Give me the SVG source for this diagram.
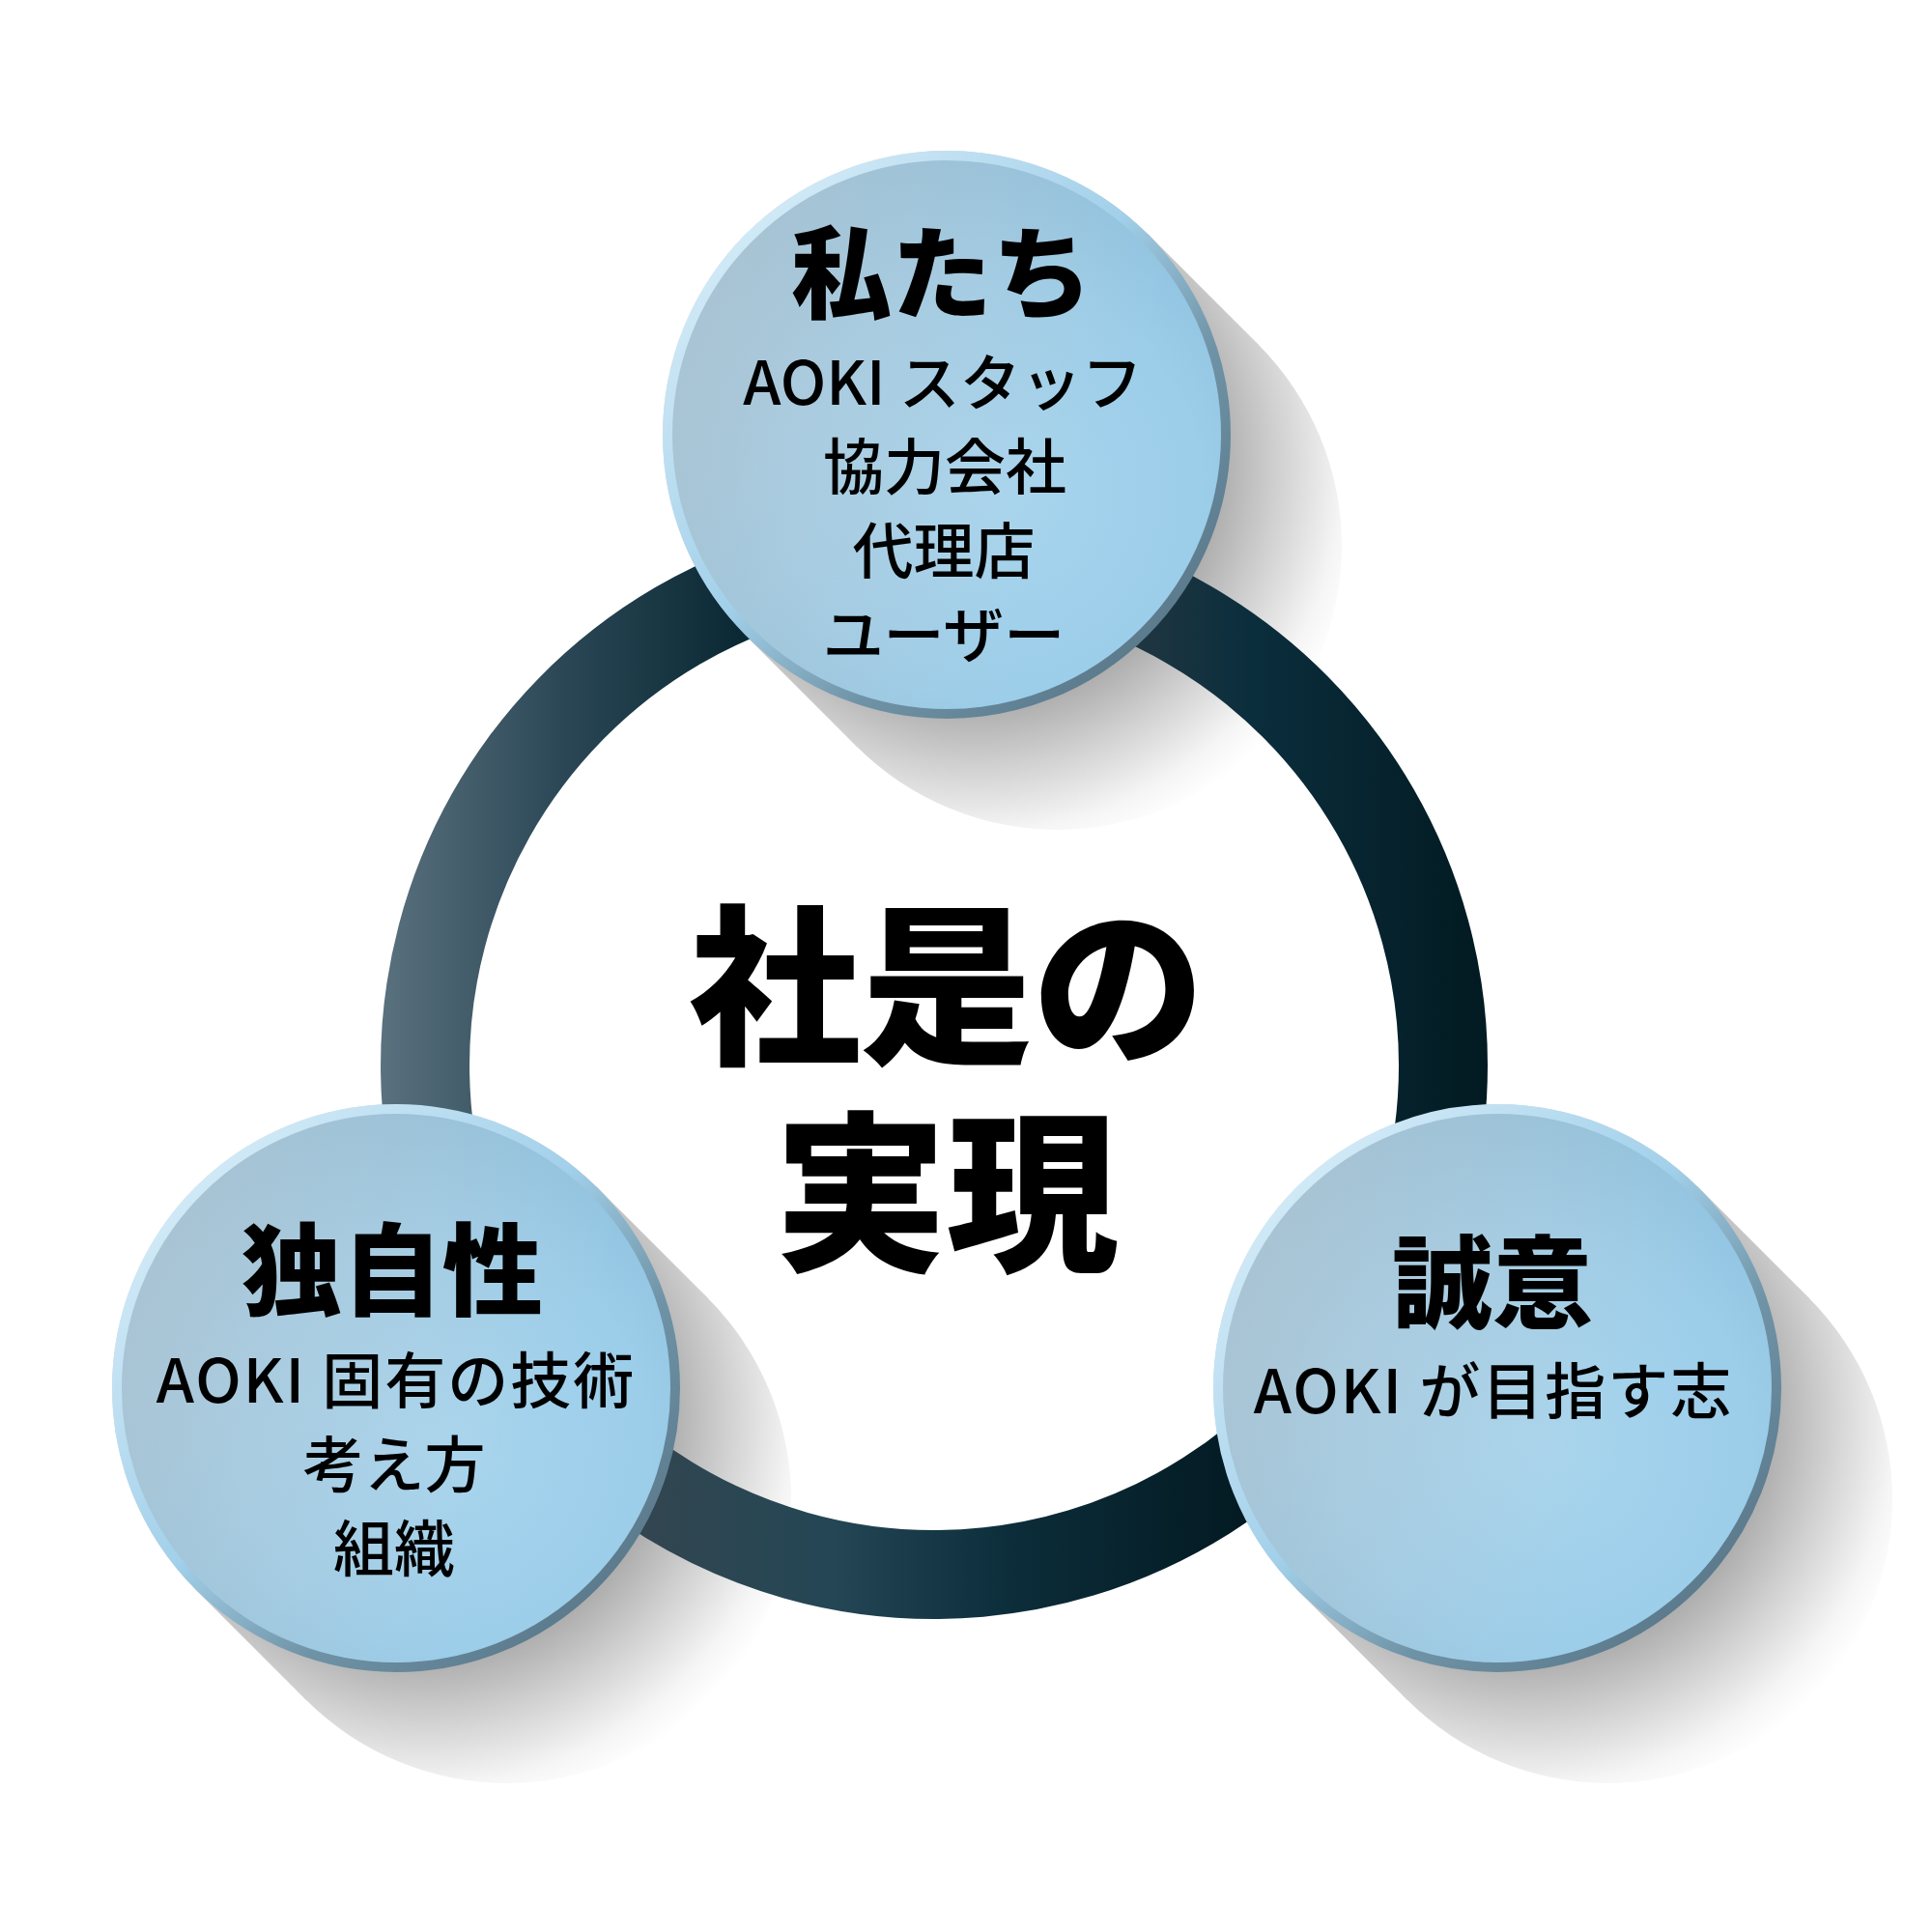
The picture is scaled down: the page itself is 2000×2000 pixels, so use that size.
<svg xmlns="http://www.w3.org/2000/svg" width="2000" height="2000" viewBox="0 0 2000 2000">
<style>
.node-fill{fill:url(#circleFill)}
.node-gloss{fill:url(#circleTint)}
.node-rim{fill:none;stroke:url(#rimGrad);stroke-width:10}
.ring{fill:none;stroke-width:92}
.head{font-family:"Noto Sans CJK JP","Noto Sans",sans-serif;font-weight:900;font-size:104px;fill:#000;text-anchor:middle}
.sub{font-family:"Noto Sans CJK JP","Noto Sans",sans-serif;font-weight:500;font-size:63px;fill:#000;text-anchor:middle}
.wide{letter-spacing:2px}
.center{font-family:"Noto Sans CJK JP","Noto Sans",sans-serif;font-weight:900;font-size:178px;fill:#000;text-anchor:middle}
</style>
<defs>
<radialGradient id="circleFill" cx="0.58" cy="0.6" r="0.62">
<stop offset="0" stop-color="#a8d6ef"/>
<stop offset="0.6" stop-color="#9ccde9"/>
<stop offset="1" stop-color="#8bbfdc"/>
</radialGradient>
<linearGradient id="circleTint" x1="0" y1="0.3" x2="0.75" y2="0.6">
<stop offset="0" stop-color="#c4c8cc" stop-opacity="0.55"/>
<stop offset="1" stop-color="#c4c8cc" stop-opacity="0"/>
</linearGradient>
<linearGradient id="rimGrad" x1="0.1" y1="0.1" x2="0.9" y2="0.9">
<stop offset="0" stop-color="#d6ecf8"/>
<stop offset="0.45" stop-color="#a2d0ea"/>
<stop offset="0.7" stop-color="#6f93a6"/>
<stop offset="1" stop-color="#587688"/>
</linearGradient>
<radialGradient id="shadowTop" gradientUnits="userSpaceOnUse" cx="1010" cy="480" r="414">
<stop offset="0.6" stop-color="#acacac"/>
<stop offset="0.75" stop-color="#cfcfcf"/>
<stop offset="0.92" stop-color="#f5f5f5"/>
<stop offset="1" stop-color="#ffffff"/>
</radialGradient>
<radialGradient id="shadowLeft" gradientUnits="userSpaceOnUse" cx="440" cy="1467" r="414">
<stop offset="0.6" stop-color="#acacac"/>
<stop offset="0.75" stop-color="#cfcfcf"/>
<stop offset="0.92" stop-color="#f5f5f5"/>
<stop offset="1" stop-color="#ffffff"/>
</radialGradient>
<radialGradient id="shadowRight" gradientUnits="userSpaceOnUse" cx="1580" cy="1467" r="414">
<stop offset="0.6" stop-color="#acacac"/>
<stop offset="0.75" stop-color="#cfcfcf"/>
<stop offset="0.92" stop-color="#f5f5f5"/>
<stop offset="1" stop-color="#ffffff"/>
</radialGradient>
<linearGradient id="arcLeft" gradientUnits="userSpaceOnUse" x1="394" y1="0" x2="770" y2="0">
<stop offset="0" stop-color="#5a717e"/>
<stop offset="0.5" stop-color="#2b4756"/>
<stop offset="1" stop-color="#0a2833"/>
</linearGradient>
<linearGradient id="arcRight" gradientUnits="userSpaceOnUse" x1="1160" y1="0" x2="1540" y2="0">
<stop offset="0" stop-color="#223741"/>
<stop offset="0.35" stop-color="#0b2e3d"/>
<stop offset="1" stop-color="#021a21"/>
</linearGradient>
<linearGradient id="arcBottom" gradientUnits="userSpaceOnUse" x1="680" y1="0" x2="1290" y2="0">
<stop offset="0" stop-color="#314651"/>
<stop offset="0.3" stop-color="#244655"/>
<stop offset="0.6" stop-color="#0c2d3a"/>
<stop offset="1" stop-color="#031a22"/>
</linearGradient>
</defs>
<rect width="2000" height="2000" fill="#ffffff"/>

<g id="shadows">
<g id="shadow-top" fill="url(#shadowTop)">
<circle cx="1095" cy="565" r="294"/>
<polygon points="1188,242 1303,357 887,773 772,658"/>
<circle cx="980" cy="450" r="294"/>
</g>
<g id="shadow-left" fill="url(#shadowLeft)">
<circle cx="525" cy="1552" r="294"/>
<polygon points="618,1229 733,1344 317,1760 202,1645"/>
<circle cx="410" cy="1437" r="294"/>
</g>
<g id="shadow-right" fill="url(#shadowRight)">
<circle cx="1665" cy="1552" r="294"/>
<polygon points="1758,1229 1873,1344 1457,1760 1342,1645"/>
<circle cx="1550" cy="1437" r="294"/>
</g>
</g>

<g id="connectors">
<path class="ring" stroke="url(#arcLeft)" d="M 515.3 1374.4 A 527 527 0 0 1 967 576"/>
<path class="ring" stroke="url(#arcRight)" d="M 967 576 A 527 527 0 0 1 1423.4 1366.5"/>
<path class="ring" stroke="url(#arcBottom)" d="M 1423.4 1366.5 A 527 527 0 0 1 515.3 1374.4"/>
</g>

<g id="node-center">
<text class="center"><tspan x="980" y="1088">社是の</tspan><tspan x="980" y="1302">実現</tspan></text>
</g>

<g id="node-top">
<circle class="node-fill" cx="980" cy="450" r="289"/>
<circle class="node-gloss" cx="980" cy="450" r="289"/>
<circle class="node-rim" cx="980" cy="450" r="289"/>
<text class="head" x="975" y="322">私たち</text>
<text class="sub" x="976" y="419">AOKI スタッフ</text>
<text class="sub" x="978" y="506">協力会社</text>
<text class="sub" x="977" y="593">代理店</text>
<text class="sub" x="977" y="680">ユーザー</text>
</g>

<g id="node-left">
<circle class="node-fill" cx="410" cy="1437" r="289"/>
<circle class="node-gloss" cx="410" cy="1437" r="289"/>
<circle class="node-rim" cx="410" cy="1437" r="289"/>
<text class="head" x="406" y="1354">独自性</text>
<text class="sub wide" x="410" y="1452">AOKI 固有の技術</text>
<text class="sub" x="408" y="1539">考え方</text>
<text class="sub" x="408" y="1626">組織</text>
</g>

<g id="node-right">
<circle class="node-fill" cx="1550" cy="1437" r="289"/>
<circle class="node-gloss" cx="1550" cy="1437" r="289"/>
<circle class="node-rim" cx="1550" cy="1437" r="289"/>
<text class="head" x="1545" y="1367">誠意</text>
<text class="sub wide" x="1546" y="1463">AOKI が目指す志</text>
</g>
</svg>
